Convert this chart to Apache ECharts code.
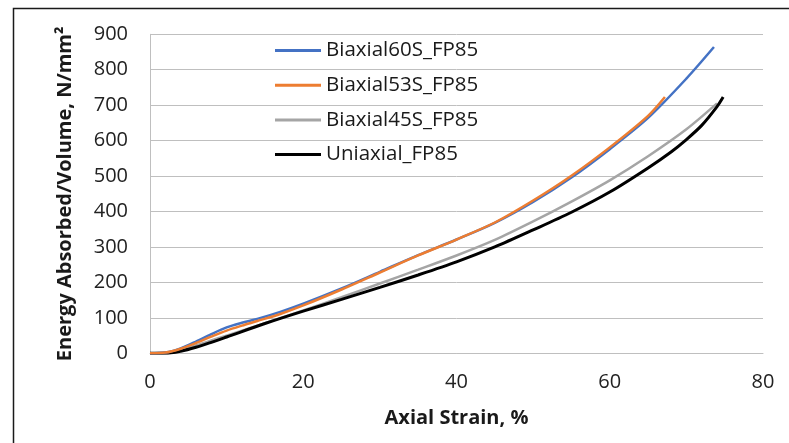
<!DOCTYPE html>
<html>
<head>
<meta charset="utf-8">
<script src="https://cdn.jsdelivr.net/npm/echarts@6/dist/echarts.min.js"></script>
<style>
html,body{margin:0;padding:0;background:#fff;}
#c{width:789px;height:443px;}
</style>
</head>
<body>
<div id="c"></div>
<script>
// Data: [axial strain %, energy absorbed/volume N/mm²]
const seriesNames = ["Biaxial60S_FP85", "Biaxial53S_FP85", "Biaxial45S_FP85", "Uniaxial_FP85"];
const biaxial60S = [[0,0],[2,2],[4,14],[6,33],[8,54],[10,73],[12,86],[14,97],[17,117],[20,140],[25,183],[30,230],[35,277],[40,321],[45,368],[50,427],[55,496],[60,576],[65,664],[70,775],[73.6,864]];
const biaxial53S = [[0,0],[2,2],[4,13],[6,29],[8,47],[10,64],[12,78],[14,91],[17,111],[20,135],[25,180],[30,228],[35,276],[40,321],[45,369],[50,431],[55,501],[60,581],[65,670],[67.2,723]];
const biaxial45S = [[0,0],[2,1],[4,9],[6,22],[8,36],[10,50],[15,85],[20,121],[25,158],[30,197],[35,236],[40,276],[45,320],[50,372],[55,428],[60,488],[65,556],[70,632],[74,705]];
const uniaxial = [[0,0],[2,0],[4,6],[6,17],[8,31],[10,46],[15,84],[20,119],[25,152],[30,186],[35,221],[40,258],[45,300],[50,348],[55,398],[60,455],[65,523],[68,568],[70,603],[72,643],[74,696],[74.8,723]];
const xTicks = [0, 20, 40, 60, 80];
const yTicks = [0, 100, 200, 300, 400, 500, 600, 700, 800, 900];

const colors = ["#4472C4", "#ED7D31", "#A5A5A5", "#000000"];
const allData = [biaxial60S, biaxial53S, biaxial45S, uniaxial];
const FONT = "Open Sans";

const chart = echarts.init(document.getElementById('c'), null, {renderer: 'canvas'});
chart.setOption({
  backgroundColor: '#ffffff',
  animation: false,
  textStyle: {fontFamily: FONT},
  graphic: [{
    type: 'rect',
    shape: {x: 13.5, y: 8.5, width: 900, height: 600},
    style: {fill: 'none', stroke: '#1a1a1a', lineWidth: 1.5},
    silent: true, z: -1
  }],
  grid: {left: 150, right: 26, top: 34.3, bottom: 89.7, containLabel: false},
  legend: {
    orient: 'vertical',
    left: 270,
    top: 35,
    icon: 'rect',
    itemWidth: 46,
    itemHeight: 3,
    itemGap: 13.7,
    data: seriesNames,
    textStyle: {fontFamily: FONT, fontSize: 20.5, color: '#1a1a1a', lineHeight: 20}
  },
  xAxis: {
    type: 'value',
    min: xTicks[0], max: xTicks[xTicks.length - 1], interval: 20,
    name: 'Axial Strain, %',
    nameLocation: 'middle',
    nameGap: 55,
    nameTextStyle: {fontFamily: FONT, fontSize: 20, fontWeight: 'bold', color: '#1a1a1a'},
    axisLine: {show: true, lineStyle: {color: '#BFBFBF', width: 1}},
    axisTick: {show: false},
    splitLine: {show: false},
    axisLabel: {fontFamily: FONT, fontSize: 20, color: '#222', margin: 19}
  },
  yAxis: {
    type: 'value',
    min: yTicks[0], max: yTicks[yTicks.length - 1], interval: 100,
    name: 'Energy Absorbed/Volume, N/mm²',
    nameLocation: 'middle',
    nameGap: 75,
    nameTextStyle: {fontFamily: FONT, fontSize: 20, fontWeight: 'bold', color: '#1a1a1a'},
    axisLine: {show: true, lineStyle: {color: '#BFBFBF', width: 1}},
    axisTick: {show: false},
    splitLine: {show: true, lineStyle: {color: '#BFBFBF', width: 1}},
    axisLabel: {fontFamily: FONT, fontSize: 20, color: '#222', margin: 22}
  },
  series: seriesNames.map((n, i) => ({
    name: n,
    type: 'line',
    data: allData[i],
    smooth: 0.3,
    symbol: 'none',
    color: colors[i],
    lineStyle: {color: colors[i], width: i === 3 ? 3 : 2.5},
    z: i === 3 ? 3 : (i === 2 ? 2 : (i === 1 ? 5 : 4))
  }))
});
</script>
</body>
</html>
